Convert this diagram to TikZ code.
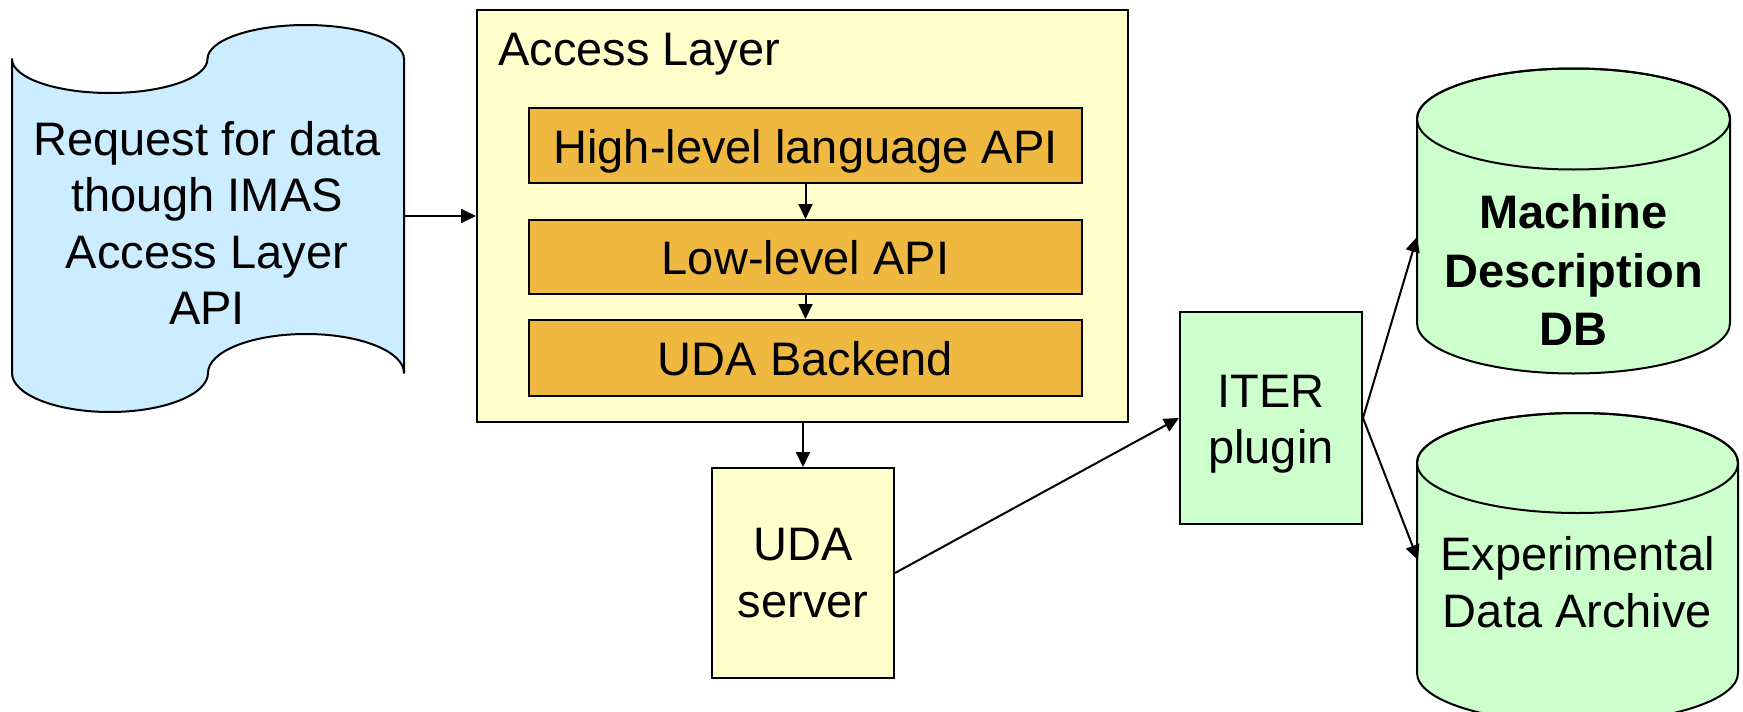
\documentclass[tikz,border=0pt]{standalone}
\usepackage{fontspec}
\setmainfont{Liberation Sans}
\usetikzlibrary{arrows.meta}
\definecolor{tapeblue}{HTML}{CCECFF}
\definecolor{paleyellow}{HTML}{FFFFCC}
\definecolor{apiorange}{HTML}{EFB841}
\definecolor{palegreen}{HTML}{CCFFCC}
\tikzset{
  box/.style={draw, line width=2pt, inner sep=0pt},
  outline/.style={draw, line width=2pt, line join=round},
  lbl/.style={font=\fontsize{47}{56.5}\selectfont, align=center, inner sep=0pt},
  conn/.style={line width=2pt, -{Triangle[length=15pt,width=14pt]}},
}
\begin{document}
\begin{tikzpicture}[x=1pt,y=-1pt]
\useasboundingbox (0,0) rectangle (1743,712);
\clip (0,0) rectangle (1743,712);

% punched tape (request)
\filldraw[outline, fill=tapeblue]
  (12,59) arc[start angle=180, end angle=360, x radius=97.75pt, y radius=34pt]
  arc[start angle=180, end angle=0, x radius=98.25pt, y radius=34pt]
  -- (404,373)
  arc[start angle=0, end angle=180, x radius=98pt, y radius=39pt]
  arc[start angle=0, end angle=-180, x radius=98pt, y radius=39pt]
  -- cycle;
\node[minimum width=392pt, minimum height=314pt, inner sep=0pt] (tape) at (208,216) {};
\node[lbl] (tapet) at (207,223) {Request for data\\though IMAS\\Access Layer\\API};

% access layer
\node[box, fill=paleyellow, minimum width=651pt, minimum height=412pt] (access) at (802.5,216) {};
\node[lbl, anchor=base west] (accesst) at (498,65) {Access Layer};
\node[box, fill=apiorange, minimum width=553pt, minimum height=75pt] (hl) at (805.5,145.5) {};
\node[lbl, anchor=base] (hlt) at (805.5,163) {High-level language API};
\node[box, fill=apiorange, minimum width=553pt, minimum height=74pt] (ll) at (805.5,257) {};
\node[lbl, anchor=base] (llt) at (805.5,274) {Low-level API};
\node[box, fill=apiorange, minimum width=553pt, minimum height=76pt] (be) at (805.5,358) {};
\node[lbl, anchor=base] (bet) at (805.5,375) {UDA Backend};

% UDA server
\node[box, fill=paleyellow, minimum width=182pt, minimum height=210pt] (uda) at (803,573) {};
\node[lbl] (udat) at (803,573) {UDA\\server};

% ITER plugin
\node[box, fill=palegreen, minimum width=182pt, minimum height=212pt] (iter) at (1271,418) {};
\node[lbl] (itert) at (1271,424) {ITER\\plugin};

% Machine Description DB cylinder
\filldraw[outline, fill=palegreen]
  (1417,119) -- (1417,323)
  arc[start angle=180, end angle=360, x radius=156.5pt, y radius=50.5pt]
  -- (1730,119)
  arc[start angle=0, end angle=180, x radius=156.5pt, y radius=50.5pt]
  -- cycle;
\draw[outline] (1573.5,119) ellipse[x radius=156.5pt, y radius=50.5pt];
\node[lbl, font=\bfseries\fontsize{47}{58.5}\selectfont] (mdt) at (1573.5,270) {Machine\\Description\\DB};

% Experimental Data Archive cylinder
\filldraw[outline, fill=palegreen]
  (1417,463) -- (1417,673)
  arc[start angle=180, end angle=360, x radius=160.5pt, y radius=50pt]
  -- (1738,463)
  arc[start angle=0, end angle=180, x radius=160.5pt, y radius=50pt]
  -- cycle;
\draw[outline] (1577.5,463) ellipse[x radius=160.5pt, y radius=50pt];
\node[lbl] (edat) at (1577.5,582) {Experimental\\Data Archive};

\coordinate (mdin) at (1417,237);
\coordinate (edain) at (1418,560);

% connectors
\draw[conn] (tape.east) -- (access.west);
\draw[conn] (hl.south) -- (ll.north);
\draw[conn] (ll.south) -- (be.north);
\draw[conn] (access.south -| uda.north) -- (uda.north);
\draw[conn] (uda.east) -- (iter.west);
\draw[conn] (iter.east) -- (mdin);
\draw[conn] (iter.east) -- (edain);
\end{tikzpicture}
\end{document}
